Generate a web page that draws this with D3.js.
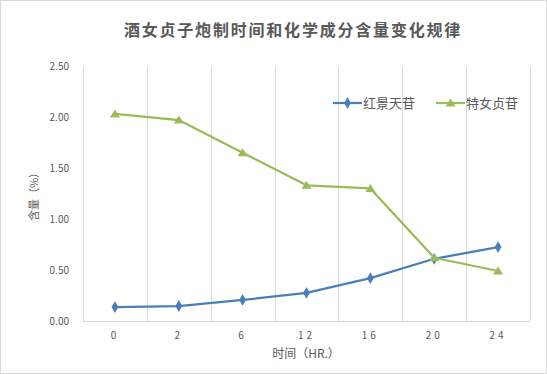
<!DOCTYPE html>
<html>
<head>
<meta charset="utf-8">
<script src="https://cdn.jsdelivr.net/npm/d3@7"></script>
<style>
  body { margin: 0; background: #fff; }
  svg text { font-family: "Noto Sans CJK SC", "Noto Sans", sans-serif; fill: #595959; }
</style>
</head>
<body>
<svg id="chart" width="547" height="374"></svg>
<script>
// chart data
const hours = ["0", "2", "6", "12", "16", "20", "24"];
const salidroside = [0.137, 0.147, 0.206, 0.275, 0.42, 0.61, 0.725];   // 红景天苷
const nuezhenoside = [2.03, 1.97, 1.65, 1.33, 1.30, 0.62, 0.49];      // 特女贞苷
const yTicks = [0, 0.5, 1.0, 1.5, 2.0, 2.5];

const series = [
  { name: "红景天苷", values: salidroside, color: "#4A7EBB", marker: "diamond" },
  { name: "特女贞苷", values: nuezhenoside, color: "#9BBB59", marker: "triangle" }
];

const W = 547, H = 374;
const m = { left: 83, right: 17, top: 66, bottom: 53 };
const svg = d3.select("#chart");

// outer border
svg.append("rect")
  .attr("x", 0.5).attr("y", 0.5).attr("width", W - 1).attr("height", H - 1)
  .attr("fill", "#fff").attr("stroke", "#d9d9d9");

const x = d3.scaleBand().domain(hours).range([m.left, W - m.right]);
const y = d3.scaleLinear().domain([0, 2.5]).range([H - m.bottom, m.top]);

// vertical gridlines at category boundaries
const bounds = hours.map(h => x(h)).concat([W - m.right]);
svg.append("g").selectAll("line")
  .data(bounds)
  .join("line")
  .attr("x1", d => Math.round(d) + 0.5).attr("x2", d => Math.round(d) + 0.5)
  .attr("y1", m.top).attr("y2", H - m.bottom)
  .attr("stroke", "#d9d9d9");

// bottom axis line
svg.append("line")
  .attr("x1", m.left).attr("x2", W - m.right)
  .attr("y1", H - m.bottom + 0.5).attr("y2", H - m.bottom + 0.5)
  .attr("stroke", "#d9d9d9");

// y tick labels
svg.append("g").selectAll("text")
  .data(yTicks)
  .join("text")
  .attr("x", 69).attr("y", d => y(d) + 4)
  .attr("text-anchor", "end")
  .style("font-size", "10px")
  .text(d => d.toFixed(2));

// x tick labels
svg.append("g").selectAll("text")
  .data(hours)
  .join("text")
  .attr("x", d => x(d) + x.bandwidth() / 2).attr("y", 339)
  .attr("text-anchor", "middle")
  .style("font-size", "10px")
  .style("letter-spacing", "3px")
  .text(d => d);

// lines + markers
const line = d3.line()
  .x((d, i) => x(hours[i]) + x.bandwidth() / 2)
  .y(d => y(d));

const markerPath = {
  diamond: d3.symbol().type(d3.symbolDiamond).size(40)(),
  triangle: "M0,-4.5L5,3.5L-5,3.5Z"
};

series.forEach(s => {
  svg.append("path")
    .datum(s.values)
    .attr("d", line)
    .attr("fill", "none")
    .attr("stroke", s.color)
    .attr("stroke-width", 2.25)
    .attr("stroke-linejoin", "round");
  svg.append("g").selectAll("path")
    .data(s.values)
    .join("path")
    .attr("transform", (d, i) => `translate(${x(hours[i]) + x.bandwidth() / 2},${y(d)})`)
    .attr("d", markerPath[s.marker])
    .attr("fill", s.color);
});

// title
svg.append("text")
  .attr("x", 293).attr("y", 36)
  .attr("text-anchor", "middle")
  .style("font-size", "16px")
  .style("font-weight", "bold")
  .style("letter-spacing", "1.8px")
  .text("酒女贞子炮制时间和化学成分含量变化规律");

// axis titles
svg.append("text")
  .attr("x", 306).attr("y", 358)
  .attr("text-anchor", "middle")
  .style("font-size", "12px")
  .text("时间（HR.）");

svg.append("text")
  .attr("transform", "translate(38,194) rotate(-90)")
  .attr("text-anchor", "middle")
  .style("font-size", "11px")
  .text("含量（%）");

// legend
const legX = [333, 436];
series.forEach((s, i) => {
  const g = svg.append("g").attr("transform", `translate(${legX[i]},103)`);
  g.append("line").attr("x1", 0).attr("x2", 29).attr("stroke", s.color).attr("stroke-width", 2.25);
  g.append("path").attr("transform", "translate(14.5,0)").attr("d", markerPath[s.marker]).attr("fill", s.color);
  g.append("text").attr("x", 30).attr("y", 5).style("font-size", "13px").text(s.name);
});
</script>
</body>
</html>
